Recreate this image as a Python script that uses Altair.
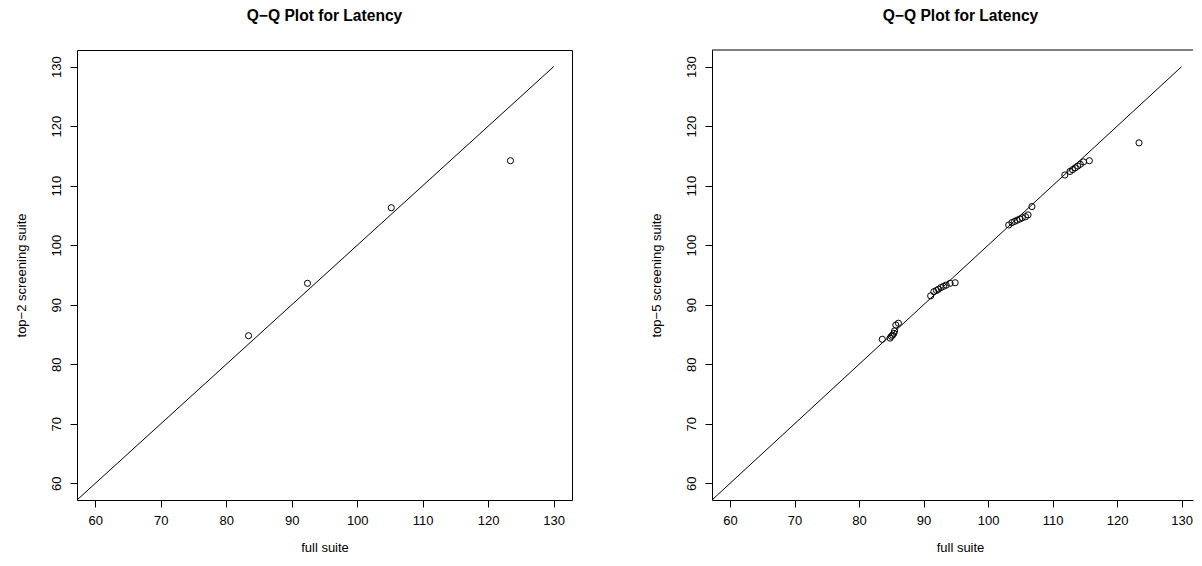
import altair as alt
import pandas as pd

# ---- data ----
# left panel: full suite quantiles vs top-2 screening suite quantiles
full_q2 = [83.4, 92.4, 105.2, 123.4]
top2_q = [84.8, 93.6, 106.3, 114.2]

# right panel: full suite quantiles vs top-5 screening suite quantiles
full_q5 = [83.6, 84.8, 85.0, 85.2, 85.4, 85.5, 85.7, 86.1,
           91.1, 91.6, 92.0, 92.3, 92.7, 93.1, 93.5, 94.1, 94.9,
           103.2, 103.7, 104.1, 104.5, 104.9, 105.3, 105.8, 106.2, 106.8,
           111.9, 112.7, 113.1, 113.5, 113.9, 114.3, 114.8, 115.7,
           123.4]
top5_q = [84.2, 84.4, 84.7, 84.9, 85.2, 85.6, 86.6, 86.9,
          91.5, 92.2, 92.4, 92.6, 92.9, 93.1, 93.3, 93.6, 93.7,
          103.4, 103.8, 104.0, 104.2, 104.4, 104.6, 104.8, 105.1, 106.5,
          111.8, 112.4, 112.7, 113.0, 113.3, 113.6, 114.0, 114.2,
          117.2]

tick_values = [60, 70, 80, 90, 100, 110, 120, 130]
ref_line = [57.2, 130.0]          # y = x reference line end points
lim_lo, lim_hi = 57.2, 132.8      # axis limits
right_hi = 131.77                 # right panel is cut at the page edge

FONT = "Liberation Sans"
TITLE = "Q\u2212Q Plot for Latency"


def panel(xv, yv, ytitle, width, xhi, boxed, title_dx=0, xtitle_x=None):
    pts = pd.DataFrame({"x": xv, "y": yv})
    ln = pd.DataFrame({"x": ref_line, "y": ref_line})
    xs = alt.Scale(domain=[lim_lo, xhi], nice=False, zero=False)
    ys = alt.Scale(domain=[lim_lo, lim_hi], nice=False, zero=False)
    xaxis_kw = dict(values=tick_values, title="full suite", domain=not boxed,
                    domainColor="black", domainWidth=1)
    if xtitle_x is not None:
        xaxis_kw["titleX"] = xtitle_x
    xax = alt.Axis(**xaxis_kw)
    yax = alt.Axis(values=tick_values, title=ytitle, domain=not boxed,
                   domainColor="black", domainWidth=1)
    line = alt.Chart(ln).mark_line(color="black", strokeWidth=1, clip=True).encode(
        x=alt.X("x:Q", scale=xs, axis=xax),
        y=alt.Y("y:Q", scale=ys, axis=yax),
    )
    points = alt.Chart(pts).mark_point(shape="circle", filled=False, color="black",
                                       size=38, strokeWidth=1, opacity=1).encode(
        x=alt.X("x:Q", scale=xs, axis=xax),
        y=alt.Y("y:Q", scale=ys, axis=yax),
    )
    layers = [line, points]
    if not boxed:
        top = pd.DataFrame({"x": [lim_lo], "x2": [xhi]})
        layers.append(alt.Chart(top).mark_rule(color="black", strokeWidth=1).encode(
            x=alt.X("x:Q", scale=xs), x2="x2:Q", y=alt.value(0)))
    ch = alt.layer(*layers).properties(
        width=width, height=450,
        title=alt.TitleParams(TITLE, fontSize=15.6, font=FONT, fontWeight="bold",
                              offset=25, dx=title_dx, color="black"),
    )
    if not boxed:
        ch = ch.properties(view=alt.ViewBackground(stroke=None))
    return ch


left = panel(full_q2, top2_q, "top\u22122 screening suite", 495, lim_hi, True)
right = panel(full_q5, top5_q, "top\u22125 screening suite", 481, right_hi, False,
              title_dx=8, xtitle_x=248)

chart = alt.hconcat(left, right, spacing=77).properties(
    padding={"left": 6, "top": 0, "right": 0, "bottom": 0}
).configure_view(stroke="black", strokeWidth=1).configure_axis(
    labelFont=FONT, titleFont=FONT, labelFontSize=13, titleFontSize=13,
    labelColor="black", titleColor="black", tickColor="black", tickSize=7,
    grid=False, titleFontWeight="normal",
).configure_axisX(labelPadding=7, titlePadding=14).configure_axisY(
    labelAngle=270, labelAlign="center", labelBaseline="bottom",
    labelPadding=7, titlePadding=22,
)

chart.save("out.html", embed_options={"renderer": "svg", "actions": False})
